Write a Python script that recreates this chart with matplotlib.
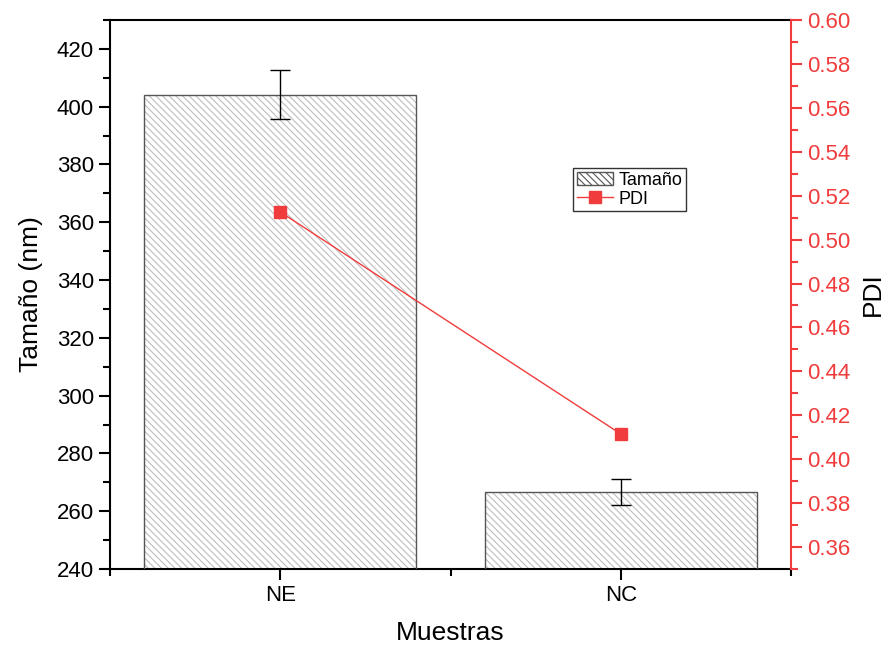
import matplotlib
matplotlib.use('Agg')
import matplotlib.pyplot as plt
from matplotlib.ticker import MultipleLocator, FormatStrFormatter
from matplotlib.patches import Patch
from matplotlib.lines import Line2D

plt.rcParams['font.family'] = ['Liberation Sans', 'DejaVu Sans']
plt.rcParams['hatch.linewidth'] = 0.8

muestras = ['NE', 'NC']
tamano = [404.2, 266.6]
tamano_err = [8.5, 4.6]
pdi = [0.5126, 0.4115]

red = '#f03c3c'
pos = [1, 2]
hatch = '\\' * 5

fig = plt.figure(figsize=(8.84, 6.46), dpi=100)
ax = fig.add_axes([110/884, 1-569/646, (791-110)/884, (569-20)/646])

# hatched fill in light grey, outline in darker grey on top
ax.bar(pos, tamano, width=0.8, color='white', edgecolor='#bdbdbd',
       hatch=hatch, linewidth=0, zorder=2)
ax.bar(pos, tamano, width=0.8, color='none', edgecolor='#555555', linewidth=1.0, zorder=3)
ax.errorbar(pos, tamano, yerr=tamano_err, fmt='none', ecolor='black',
            elinewidth=1.0, capsize=7, capthick=1.0, zorder=4)

ax.set_xlim(0.5, 2.5)
ax.set_ylim(240, 430)
ax.set_xticks(pos)
ax.set_xticklabels(muestras)
ax.xaxis.set_minor_locator(MultipleLocator(0.5))
ax.yaxis.set_major_locator(MultipleLocator(20))
ax.yaxis.set_minor_locator(MultipleLocator(10))
ax.tick_params(axis='both', which='major', direction='out', length=8, width=1.5, labelsize=16)
ax.tick_params(axis='both', which='minor', direction='out', length=5, width=1.5)
ax.set_xlabel('Muestras', fontsize=19, labelpad=11)
ax.set_ylabel('Tamaño (nm)', fontsize=19, labelpad=10)
for s in ['left', 'bottom', 'top']:
    ax.spines[s].set_linewidth(1.5)
ax.spines['right'].set_visible(False)

ax2 = ax.twinx()
ax2.plot(pos, pdi, color=red, marker='s', markersize=8, linewidth=1.0, zorder=5)
ax2.set_ylim(0.35, 0.60)
ax2.yaxis.set_major_locator(MultipleLocator(0.02))
ax2.yaxis.set_minor_locator(MultipleLocator(0.01))
ax2.yaxis.set_major_formatter(FormatStrFormatter('%.2f'))
ax2.tick_params(axis='y', which='major', direction='out', length=8, width=1.5,
                labelsize=16, colors=red)
ax2.tick_params(axis='y', which='minor', direction='out', length=5, width=1.5, colors=red)
ax2.set_ylabel('PDI', fontsize=19, labelpad=8)
ax2.spines['right'].set_color(red)
ax2.spines['right'].set_linewidth(1.5)
for s in ['left', 'bottom', 'top']:
    ax2.spines[s].set_visible(False)

handles = [Patch(facecolor='white', edgecolor='#555555', hatch=hatch),
           Line2D([0], [0], color=red, marker='s', markersize=8, linewidth=1.0)]
leg = ax2.legend(handles, ['Tamaño', 'PDI'], loc='upper left',
                 bbox_to_anchor=((573-110)/681, 1-(168-20)/549),
                 fontsize=13, frameon=True, fancybox=False, edgecolor='black',
                 handlelength=2.0, handleheight=0.8, handletextpad=0.3, borderpad=0.2,
                 labelspacing=0.1, borderaxespad=0)
leg.get_frame().set_linewidth(1.0)

fig.savefig('out.png', dpi=100)
